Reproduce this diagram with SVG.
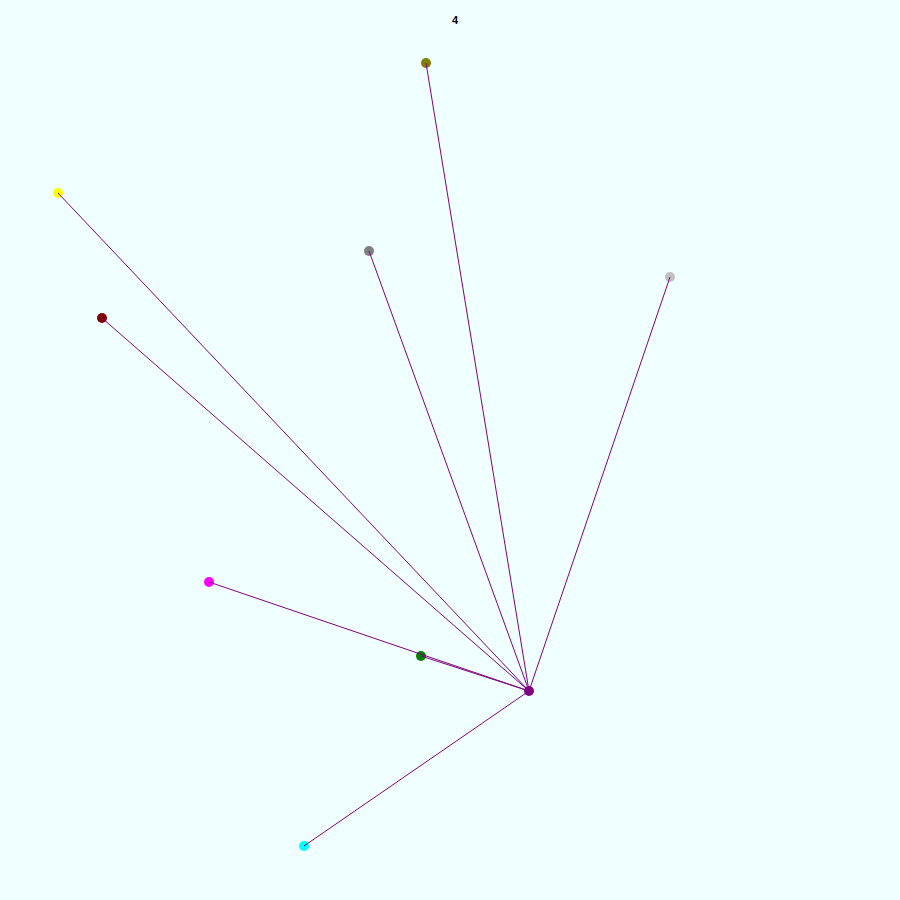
<svg xmlns="http://www.w3.org/2000/svg" width="900" height="900" viewBox="0 0 900 900">
<style>
.e{stroke:#800080;stroke-width:1;fill:none}
.n{stroke:none}
.t{font-family:"Liberation Sans",Arial,sans-serif;font-size:11px;font-weight:bold;fill:#000;text-anchor:middle}
</style>
<rect width="900" height="900" fill="#F0FFFF"/>
<text class="t" x="455" y="24">4</text>
<g id="nodes">
<g id="n-olive"><circle class="n" cx="426" cy="63" r="5" fill="#808000"/></g>
<g id="n-yellow"><circle class="n" cx="58" cy="193" r="5" fill="#FFFF00"/></g>
<g id="n-gray"><circle class="n" cx="369" cy="251" r="5" fill="#808080"/></g>
<g id="n-silver"><circle class="n" cx="670" cy="277" r="5" fill="#C0C0C0"/></g>
<g id="n-maroon"><circle class="n" cx="102" cy="318" r="5" fill="#800000"/></g>
<g id="n-magenta"><circle class="n" cx="209" cy="582" r="5" fill="#FF00FF"/></g>
<g id="n-green"><circle class="n" cx="421" cy="656" r="5" fill="#008000"/></g>
<g id="n-purple"><circle class="n" cx="529" cy="691" r="5" fill="#800080"/></g>
<g id="n-cyan"><circle class="n" cx="304" cy="846" r="5" fill="#00FFFF"/></g>
</g>
<g id="connectors">
<line class="e" x1="529" y1="691" x2="426" y2="63"/>
<line class="e" x1="529" y1="691" x2="58" y2="193"/>
<line class="e" x1="529" y1="691" x2="369" y2="251"/>
<line class="e" x1="529" y1="691" x2="670" y2="277"/>
<line class="e" x1="529" y1="691" x2="102" y2="318"/>
<line class="e" x1="529" y1="691" x2="209" y2="582"/>
<line class="e" x1="529" y1="691" x2="421" y2="656"/>
<line class="e" x1="529" y1="691" x2="304" y2="846"/>
</g>
</svg>
